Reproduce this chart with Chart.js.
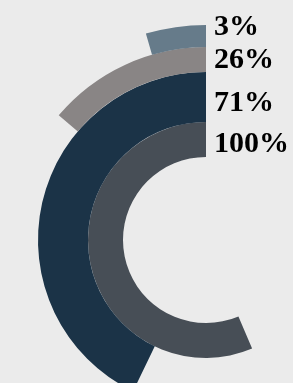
<!DOCTYPE html>
<html>
<head>
<meta charset="utf-8">
<script src="https://cdn.jsdelivr.net/npm/chart.js@4/dist/chart.umd.min.js"></script>
<style>
  html, body { margin: 0; padding: 0; width: 293px; height: 383px; overflow: hidden; background: #ebebeb; }
  #wrap { position: absolute; left: -9px; top: 0px; width: 430px; height: 455px; }
</style>
</head>
<body>
<div id="wrap"><canvas id="c"></canvas></div>
<script>
// Ring labels (outer ring first)
const labels = ["3%", "26%", "71%", "100%"];
// Arc length of each ring as drawn, in % of the longest arc
const arcValues = [8, 24.5, 76, 100];
const ringColors = ["#667b8a", "#898585", "#1b3347", "#474e56"];
// relative ring thicknesses (outer to inner)
const ringWeights = [22, 25, 50, 35];
const fullSweepDeg = 203; // sweep of the 100 value, counter-clockwise from 12 o'clock

const totalScale = 100 * 360 / fullSweepDeg;

const datasets = arcValues.map((v, i) => ({
  label: labels[i],
  data: [totalScale - v, v],
  backgroundColor: ["rgba(0,0,0,0)", ringColors[i]],
  borderWidth: 0,
  hoverOffset: 0,
  weight: ringWeights[i]
}));

const labelPlugin = {
  id: 'ringLabels',
  afterDatasetsDraw(chart) {
    const ctx = chart.ctx;
    const baselines = [35, 68, 111, 152]; // text baselines in canvas px
    ctx.save();
    ctx.fillStyle = "#000";
    ctx.font = "bold 30px 'Liberation Serif', 'Times New Roman', serif";
    ctx.textBaseline = "alphabetic";
    ctx.textAlign = "left";
    const arc = chart.getDatasetMeta(0).data[1];
    labels.forEach((t, i) => {
      ctx.fillText(t, arc.x + 8, baselines[i]);
    });
    ctx.restore();
  }
};

new Chart(document.getElementById('c'), {
  type: 'doughnut',
  data: { labels: ["rest", "value"], datasets },
  options: {
    responsive: true,
    maintainAspectRatio: false,
    animation: false,
    cutout: 83,
    rotation: 0,
    circumference: 360,
    layout: { padding: { top: 25, bottom: 0, left: 0, right: 0 } },
    plugins: { legend: { display: false }, tooltip: { enabled: false } }
  },
  plugins: [labelPlugin]
});
</script>
</body>
</html>
